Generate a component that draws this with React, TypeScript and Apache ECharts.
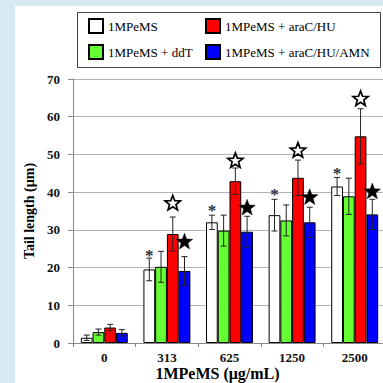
import React, { useEffect, useRef } from "react";
import * as echarts from "echarts";

const categories = ["0", "313", "625", "1250", "2500"];
const seriesNames = ["1MPeMS", "1MPeMS + ddT", "1MPeMS + araC/HU", "1MPeMS + araC/HU/AMN"];
const seriesColors = ["#ffffff", "#66ff33", "#ff0000", "#0000ff"];
const xTitle = "1MPeMS (μg/mL)";
const yTitle = "Tail length (µm)";

const controlMean = [1.4, 19.5, 32.0, 33.9, 41.5];
const controlErr = [0.7, 3.0, 1.9, 4.2, 2.4];
const ddtMean = [2.9, 20.2, 29.8, 32.5, 38.9];
const ddtErr = [0.8, 4.1, 4.1, 4.1, 4.8];
const aracMean = [4.1, 28.9, 42.9, 43.8, 54.8];
const aracErr = [0.85, 4.5, 3.5, 4.7, 7.3];
const amnMean = [2.7, 19.1, 29.5, 32.0, 34.1];
const amnErr = [0.85, 3.8, 4.1, 4.0, 4.0];

// significance marks: value (data units) where each mark sits, null = none
const asteriskAt = [null, 24.2, 36.3, 40.4, 46.1]; // over 1MPeMS
const openStarAt = [null, 37.0, 48.3, 51.0, 64.7]; // over araC/HU
const filledStarAt = [null, 26.8, 35.8, 38.6, 40.1]; // over araC/HU/AMN

const yTicks = { min: 0, max: 70, interval: 10 };

const means = [controlMean, ddtMean, aracMean, amnMean];
const errs = [controlErr, ddtErr, aracErr, amnErr];

const SERIF = "'Liberation Serif', 'Times New Roman', serif";
const CAT_GAP = 0.25;

function barCenterX(api: any, cat: number, s: number) {
  const c = api.coord([cat, 0]);
  const band = api.size([1, 0])[0];
  const barW = (band * (1 - CAT_GAP)) / 4;
  return c[0] - (band * (1 - CAT_GAP)) / 2 + barW * (s + 0.5);
}

function starPoints(cx: number, cy: number, R: number, r: number) {
  const pts: number[][] = [];
  for (let i = 0; i < 10; i++) {
    const rad = i % 2 === 0 ? R : r;
    const a = -Math.PI / 2 + (i * Math.PI) / 5;
    pts.push([cx + rad * Math.cos(a), cy + rad * Math.sin(a)]);
  }
  return pts;
}

export default function App() {
  const ref = useRef<HTMLDivElement>(null);
  useEffect(() => {
    document.body.style.margin = "0";
    document.body.style.overflow = "hidden";
    if (!ref.current) return;
    const chart = echarts.init(ref.current, null, { renderer: "svg" });

    const errData: any[] = [];
    means.forEach((m, s) =>
      m.forEach((v, i) => errData.push([i, v - errs[s][i], v + errs[s][i], s]))
    );
    const markData: any[] = [];
    asteriskAt.forEach((v, i) => v != null && markData.push([i, v, 0, 0]));
    openStarAt.forEach((v, i) => v != null && markData.push([i, v, 2, 1]));
    filledStarAt.forEach((v, i) => v != null && markData.push([i, v, 3, 2]));

    const barSeries = means.map((m, s) => ({
      type: "bar",
      name: seriesNames[s],
      data: m,
      barGap: "0%",
      barCategoryGap: "25%",
      itemStyle: { color: seriesColors[s], borderColor: "#000", borderWidth: 1 },
      z: 2,
    }));

    chart.setOption({
      animation: false,
      backgroundColor: "#d6eaf1",
      graphic: [
        {
          type: "rect",
          z: -10,
          shape: { x: 15, y: 6, width: 400, height: 400 },
          style: { fill: "#ffffff" },
        },
        {
          type: "rect",
          z: 1,
          shape: { x: 77.5, y: 12.5, width: 303, height: 55 },
          style: { fill: "none", stroke: "#444", lineWidth: 1 },
        },
        {
          type: "text",
          z: 10,
          x: 217.5,
          y: 373,
          style: {
            text: xTitle,
            align: "center",
            verticalAlign: "middle",
            font: "bold 16px " + SERIF,
            fill: "#000",
          },
        },
      ],
      legend: [
        {
          data: [seriesNames[0], seriesNames[1]],
          orient: "vertical",
          left: 88,
          top: 18,
          itemWidth: 14,
          itemHeight: 14,
          itemGap: 10,
          icon: "rect",
          padding: 0,
          textStyle: { fontFamily: SERIF, fontSize: 13, color: "#000" },
        },
        {
          data: [seriesNames[2], seriesNames[3]],
          orient: "vertical",
          left: 205,
          top: 18,
          itemWidth: 14,
          itemHeight: 14,
          itemGap: 10,
          icon: "rect",
          padding: 0,
          textStyle: { fontFamily: SERIF, fontSize: 13, color: "#000" },
        },
      ],
      grid: {
        left: 73,
        right: -3,
        top: 79,
        bottom: 40,
        containLabel: false,
        outerBoundsMode: "none",
      },
      xAxis: {
        type: "category",
        data: categories,
        axisLine: { lineStyle: { color: "#888", width: 1 } },
        axisTick: { show: true, length: 4, lineStyle: { color: "#888" } },
        axisLabel: {
          fontFamily: SERIF,
          fontWeight: "bold",
          fontSize: 13,
          color: "#111",
          margin: 8,
        },
      },
      yAxis: {
        type: "value",
        min: yTicks.min,
        max: yTicks.max,
        interval: yTicks.interval,
        name: yTitle,
        nameLocation: "middle",
        nameGap: 34,
        nameTextStyle: { fontFamily: SERIF, fontWeight: "bold", fontSize: 14, color: "#000" },
        axisLine: { show: true, lineStyle: { color: "#888", width: 1 } },
        axisTick: { show: true, length: 5, lineStyle: { color: "#888" } },
        axisLabel: {
          fontFamily: SERIF,
          fontWeight: "bold",
          fontSize: 13,
          color: "#111",
          margin: 13,
        },
        splitLine: { lineStyle: { color: "#b4b4b4", width: 1 } },
      },
      series: [
        ...barSeries,
        {
          type: "custom",
          name: "err",
          data: errData,
          z: 5,
          renderItem: (params: any, api: any) => {
            const cat = api.value(0);
            const s = api.value(3);
            const x = barCenterX(api, cat, s);
            const lo = api.coord([cat, api.value(1)])[1];
            const hi = api.coord([cat, api.value(2)])[1];
            const st = { stroke: "#222", lineWidth: 1 };
            return {
              type: "group",
              children: [
                { type: "line", shape: { x1: x, y1: lo, x2: x, y2: hi }, style: st },
                { type: "line", shape: { x1: x - 3, y1: lo, x2: x + 3, y2: lo }, style: st },
                { type: "line", shape: { x1: x - 3, y1: hi, x2: x + 3, y2: hi }, style: st },
              ],
            };
          },
        },
        {
          type: "custom",
          name: "marks",
          data: markData,
          z: 6,
          renderItem: (params: any, api: any) => {
            const cat = api.value(0);
            const s = api.value(2);
            const kind = api.value(3);
            const x = barCenterX(api, cat, s);
            const y = api.coord([cat, api.value(1)])[1];
            if (kind === 0) {
              return {
                type: "text",
                style: {
                  text: "*",
                  x: x,
                  y: y + 4,
                  align: "center",
                  verticalAlign: "middle",
                  font: "bold 17px " + SERIF,
                  fill: "#2a3040",
                },
              };
            }
            if (kind === 1) {
              return {
                type: "polygon",
                shape: { points: starPoints(x, y, 8, 3.4) },
                style: { fill: "#fff", stroke: "#000", lineWidth: 1.7 },
              };
            }
            return {
              type: "polygon",
              shape: { points: starPoints(x, y, 8.6, 3.6) },
              style: { fill: "#000", stroke: "#000", lineWidth: 0.5 },
            };
          },
        },
      ],
    });
    return () => chart.dispose();
  }, []);
  return (
    <div
      ref={ref}
      style={{ position: "fixed", left: 0, top: 0, width: 383, height: 383 }}
    />
  );
}
